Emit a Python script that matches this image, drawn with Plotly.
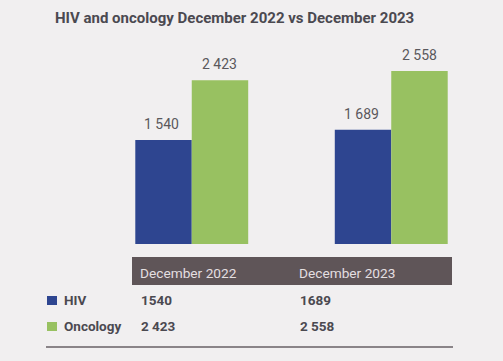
import plotly.graph_objects as go

# ---- data ----
categories = ["December 2022", "December 2023"]
hiv_values = [1540, 1689]
oncology_values = [2423, 2558]
series_names = ["HIV", "Oncology"]
title_text = "HIV and oncology December 2022 vs December 2023"

# ---- styles ----
BG = "#f1eff0"
HIV_COLOR = "#2e4590"
ONC_COLOR = "#98c161"
TEXT_DARK = "#4b4950"
LABEL_COLOR = "#5a585c"
HEADER_BG = "#5f5558"
HEADER_TEXT = "#e4dfe0"

W, H = 503, 361
L, R, T, B = 92, 12, 40, 117
plot_w = W - L - R
plot_h = H - T - B
Y_MAX = 3018


def fmt(v):
    return f"{v:,}".replace(",", " ")


def px(xp):
    return (xp - L) / plot_w


def py(yp):
    return (H - B - yp) / plot_h


fig = go.Figure()
fig.add_trace(go.Bar(x=categories, y=hiv_values, name=series_names[0],
                     marker=dict(color=HIV_COLOR, line=dict(width=0))))
fig.add_trace(go.Bar(x=categories, y=oncology_values, name=series_names[1],
                     marker=dict(color=ONC_COLOR, line=dict(width=0))))

annotations = []
shapes = []

# value labels above bars
for vals, shift in ((hiv_values, -30), (oncology_values, 28)):
    for c, v in zip(categories, vals):
        annotations.append(dict(x=c, y=v, xref="x", yref="y", text=fmt(v),
                                showarrow=False, yanchor="bottom", xshift=shift, yshift=6,
                                font=dict(family="Roboto", size=14, color=LABEL_COLOR)))

# title
annotations.append(dict(x=px(53), y=py(18), xref="paper", yref="paper", text="<b>" + title_text + "</b>",
                        showarrow=False, xanchor="left", yanchor="middle",
                        font=dict(family="Roboto", size=15, color=TEXT_DARK)))

# table header
shapes.append(dict(type="rect", xref="paper", yref="paper", x0=px(132), x1=px(452), y0=py(285), y1=py(257),
                   fillcolor=HEADER_BG, line=dict(width=0), layer="above"))
col_x = [138, 297]
for cx, c in zip(col_x, categories):
    annotations.append(dict(x=px(cx), y=py(273), xref="paper", yref="paper", text=c,
                            showarrow=False, xanchor="left", yanchor="middle",
                            font=dict(family="Roboto", size=13.7, color=HEADER_TEXT)))

# table rows
row_y = [300, 326]
for ry, name, color, vals in zip(row_y, series_names, [HIV_COLOR, ONC_COLOR], [hiv_values, oncology_values]):
    shapes.append(dict(type="rect", xref="paper", yref="paper", x0=px(47), x1=px(57), y0=py(ry + 5), y1=py(ry - 4),
                       fillcolor=color, line=dict(width=0)))
    annotations.append(dict(x=px(62), y=py(ry), xref="paper", yref="paper", text="<b>" + name + "</b>",
                            showarrow=False, xanchor="left", yanchor="middle",
                            font=dict(family="Roboto", size=13.5, color=TEXT_DARK)))
    for cx, v in zip(col_x, vals):
        text = fmt(v) if v >= 2000 else str(v)
        annotations.append(dict(x=px(cx + 1), y=py(ry), xref="paper", yref="paper", text="<b>" + text + "</b>",
                                showarrow=False, xanchor="left", yanchor="middle",
                                font=dict(family="Roboto", size=13.5, color=TEXT_DARK)))

# bottom rule
shapes.append(dict(type="line", xref="paper", yref="paper", x0=px(46), x1=px(453), y0=py(347), y1=py(347),
                   line=dict(color="#8a8488", width=2)))

fig.update_layout(
    width=W, height=H,
    margin=dict(l=L, r=R, t=T, b=B, pad=0),
    paper_bgcolor=BG, plot_bgcolor=BG,
    barmode="group", bargap=0.434, bargroupgap=0,
    showlegend=False,
    xaxis=dict(range=[-0.5, 1.5], showticklabels=False, showgrid=False, zeroline=False, showline=False, ticks=""),
    yaxis=dict(range=[0, Y_MAX], showticklabels=False, showgrid=False, zeroline=False, showline=False, ticks=""),
    annotations=annotations,
    shapes=shapes,
)

fig.write_html("out.html", config={"displayModeBar": False},
               post_script="document.body.style.margin='0';document.body.style.padding='0';")
